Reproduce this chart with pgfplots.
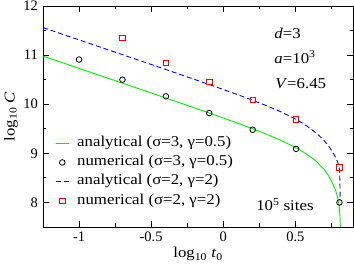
\documentclass[border=0pt]{standalone}
\usepackage{fontspec}
\setmainfont[FakeStretch=1.12]{Liberation Serif}
\newfontfamily\tickfont{Liberation Serif}
\usepackage{pgfplots}
\pgfplotsset{compat=1.18}
\definecolor{cgreen}{rgb}{0,0.95,0}
\definecolor{cblue}{rgb}{0,0,1}
\definecolor{cred}{rgb}{1,0,0}
\begin{document}
\fontsize{15}{17}\selectfont
\begin{tikzpicture}
\begin{axis}[name=ax, scale only axis, width=310pt, height=221pt,
  xmin=-1.25, xmax=0.9, ymin=7.5, ymax=12,
  xtick={-1,-0.5,0,0.5}, ytick={8,9,10,11,12},
  minor xtick={-0.75,-0.25,0.25,0.75}, minor ytick={8.5,9.5,10.5,11.5},
  tick align=inside, major tick length=6pt, minor tick length=3.5pt,
  axis line style={line width=0.9pt},
  every tick/.style={black, line width=0.8pt},
  /pgf/number format/assume math mode=true,
  ticklabel style={font=\fontsize{14.5}{16}\tickfont},
  xlabel={log\textsubscript{10} \textit{t}\textsubscript{0}},
  ylabel={log\textsubscript{10} \textit{C}},
  every axis x label/.style={at={(axis description cs:0.5,0)}, yshift=-31pt, anchor=base},
  every axis y label/.style={at={(axis description cs:0,0.5)}, xshift=-32pt, rotate=90, anchor=center},
  legend cell align=left,
  legend image code/.code={\draw[mark repeat=2,mark phase=2,#1] plot coordinates {(0pt,0pt) (6.5pt,0pt) (13pt,0pt)};},
  legend style={draw=none, fill=none, at={(0.039,0.412)}, anchor=north west,
    inner sep=0pt, row sep=5.3pt, column sep=8pt,
    nodes={inner sep=0pt, text height=10pt, text depth=4pt}},
]
\addplot[cgreen, line width=0.9pt] coordinates {
(-1.25,10.98) (-1.0,10.73) (-0.75,10.48) (-0.5,10.229) (-0.25,9.977) (0,9.720)
(0.1,9.614) (0.2,9.505) (0.3,9.389) (0.4,9.264) (0.5,9.120) (0.55,9.036)
(0.6,8.940) (0.65,8.823) (0.7,8.671) (0.73,8.549) (0.76,8.383) (0.78,8.24)
(0.795,8.08) (0.805,7.92) (0.81,7.70) (0.813,7.45)};
\addlegendentry{analytical (σ=3, γ=0.5)}
\addplot[only marks, mark=o, mark size=2.8pt, black, line width=0.8pt] coordinates {
(-1,10.91) (-0.699,10.50) (-0.398,10.16) (-0.097,9.82) (0.204,9.48) (0.505,9.09) (0.806,8.0)};
\addlegendentry{numerical (σ=3, γ=0.5)}
\addplot[cblue, line width=0.9pt, dash pattern=on 5pt off 3pt] coordinates {
(-1.25,11.56) (-1.0,11.31) (-0.75,11.06) (-0.5,10.81) (-0.25,10.557) (0,10.30)
(0.1,10.195) (0.2,10.085) (0.3,9.97) (0.4,9.845) (0.5,9.70) (0.55,9.615)
(0.6,9.515) (0.65,9.40) (0.7,9.26) (0.74,9.11) (0.77,8.97) (0.79,8.85)
(0.80,8.76) (0.806,8.67) (0.809,8.45) (0.811,8.05)};
\addlegendentry{analytical (σ=2, γ=2)}
\addplot[only marks, mark=square, mark size=2.7pt, cred, line width=0.8pt] coordinates {
(-0.699,11.35) (-0.398,10.84) (-0.097,10.46) (0.204,10.09) (0.505,9.69) (0.806,8.71)};
\addlegendentry{numerical (σ=2, γ=2)}
\node[anchor=base west, inner sep=0pt] at (axis cs:0.354,11.347) {\textit{d}=3};
\node[anchor=base west, inner sep=0pt] at (axis cs:0.354,10.837) {\textit{a}=10\textsuperscript{3}};
\node[anchor=base west, inner sep=0pt] at (axis cs:0.36,10.327) {\textit{V}=6.45};
\node[anchor=base west, inner sep=0pt] at (axis cs:0.228,7.84) {10\textsuperscript{5} sites};
\end{axis}
\pgfresetboundingbox
\path ([shift={(-43pt,-39pt)}]ax.south west) rectangle ([shift={(1pt,6pt)}]ax.north east);
\end{tikzpicture}
\end{document}
